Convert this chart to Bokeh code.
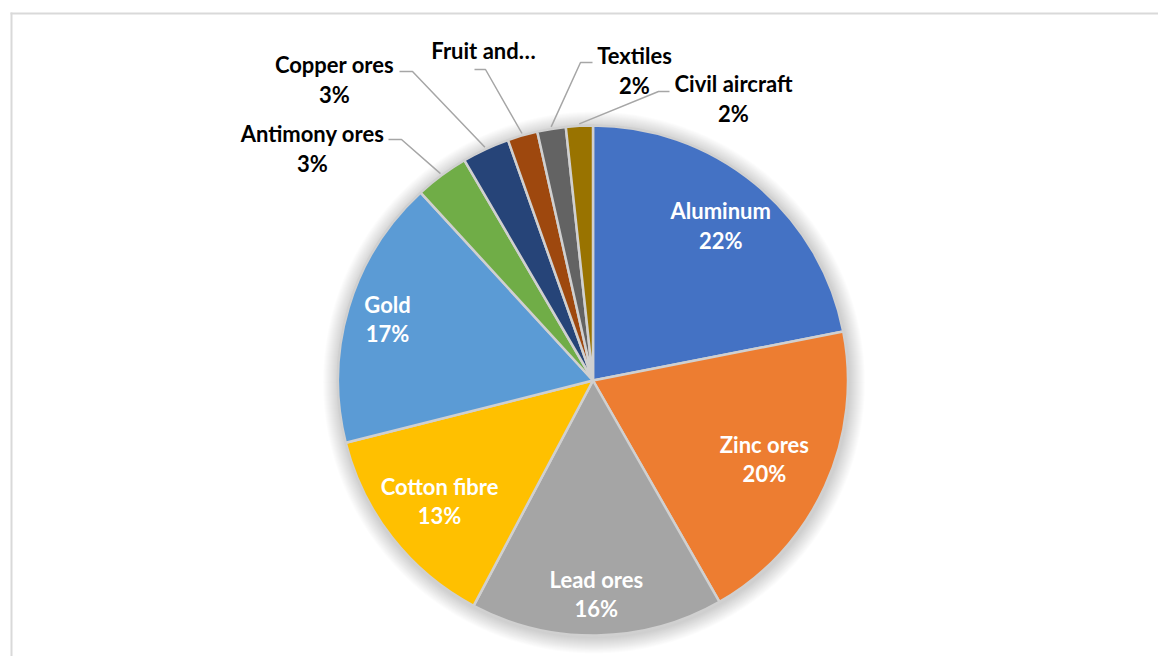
import numpy as np
from bokeh.plotting import figure
from bokeh.models import Range1d, ColumnDataSource, BoxAnnotation
from bokeh.core.properties import value
from bokeh.embed import file_html
from bokeh.resources import INLINE

# ---------------- data ----------------
categories = ["Aluminum", "Zinc ores", "Lead ores", "Cotton fibre", "Gold",
              "Antimony ores", "Copper ores", "Fruit and nuts", "Textiles", "Civil aircraft"]
display_names = ["Aluminum", "Zinc ores", "Lead ores", "Cotton fibre", "Gold",
                 "Antimony ores", "Copper ores", "Fruit and\u2026", "Textiles", "Civil aircraft"]
shares = [21.9, 19.8, 16.0, 13.3, 17.1, 3.4, 3.0, 1.9, 1.8, 1.7]
show_pct = [True, True, True, True, True, True, True, False, True, True]
colors = ["#4472C4", "#ED7D31", "#A5A5A5", "#FFC000", "#5B9BD5",
          "#70AD47", "#264478", "#9E480E", "#636363", "#997300"]

# ---------------- layout (screen px) ----------------
W, H = 1158, 656
CX, CY, R = 592.5, 380.0, 255.0
FONT = "Lato"
FS = "22px"
LINE_GAP = 29.5
inside_r = [201.0, 188.5, 213.5, 195.0, 214.5]          # label radius for inside labels
outside_pos = {5: (312, 133), 6: (334, 64), 7: (483, 50), 8: (634, 55), 9: (733, 83)}
leader_start = {5: [(388, 139), (401, 139)], 6: [(399, 71), (412, 71)],
                7: [(474, 69), (485, 69)], 8: [(592, 62), (580, 62)],
                9: [(669, 91), (658, 91)]}

vals = np.array(shares, dtype=float)
frac = vals / vals.sum()
pct = [f"{int(round(f * 100))}%" for f in frac]
cum_end = np.cumsum(frac) * 2 * np.pi
cum_start = cum_end - frac * 2 * np.pi
mid = (cum_start + cum_end) / 2

p = figure(width=W, height=H, x_range=Range1d(0, W), y_range=Range1d(-H, 0),
           output_backend="svg", toolbar_location=None, x_axis_type=None, y_axis_type=None,
           min_border=0)
p.grid.visible = False
p.outline_line_color = None
p.background_fill_color = "white"
p.border_fill_color = "white"

# chart frame (only top/left edges are in view)
p.add_layout(BoxAnnotation(left=10, right=12, top=-12, fill_color="#d9d9d9",
                           fill_alpha=1, line_color=None))
p.add_layout(BoxAnnotation(left=10, top=-12, bottom=-14, fill_color="#d9d9d9",
                           fill_alpha=1, line_color=None))

# soft shadow
for k in range(1, 17):
    p.circle(x=[CX + 1], y=[-(CY + 2)], radius=R + k, fill_color="black",
             fill_alpha=0.012, line_color=None)

src = ColumnDataSource(dict(
    cat=categories,
    start=np.pi / 2 - cum_start,
    end=np.pi / 2 - cum_end,
    color=colors,
))
p.wedge(x=CX, y=-CY, radius=R, start_angle="start", end_angle="end", direction="clock",
        fill_color="color", line_color="#d0d0d0", line_width=2.5, source=src)

# inside labels
ix, iy1, iy2, in_names, in_pct = [], [], [], [], []
for i, r in enumerate(inside_r):
    x = CX + r * np.sin(mid[i])
    y = CY - r * np.cos(mid[i])
    ix.append(x)
    iy1.append(-(y - LINE_GAP / 2))
    iy2.append(-(y + LINE_GAP / 2))
    in_names.append(display_names[i])
    in_pct.append(pct[i])
common = dict(text_align="center", text_baseline="middle", text_font=value(FONT),
              text_font_size=FS, text_font_style="bold")
p.text(x=ix, y=iy1, text=in_names, text_color="white", **common)
p.text(x=ix, y=iy2, text=in_pct, text_color="white", **common)

# outside labels with leader lines
ox, oy, otext = [], [], []
lxs, lys = [], []
for i, (x, y) in outside_pos.items():
    ox.append(x); oy.append(-y); otext.append(display_names[i])
    if show_pct[i]:
        ox.append(x); oy.append(-(y + 30)); otext.append(pct[i])
    pts = leader_start[i]
    ex = CX + (R + 2) * np.sin(mid[i])
    ey = CY - (R + 2) * np.cos(mid[i])
    lxs.append([pts[0][0], pts[1][0], ex])
    lys.append([-pts[0][1], -pts[1][1], -ey])
p.multi_line(xs=lxs, ys=lys, line_color="#a6a6a6", line_width=1.5)
p.text(x=ox, y=oy, text=otext, text_color="black", **common)

open("out.html", "w").write(file_html(p, INLINE))
